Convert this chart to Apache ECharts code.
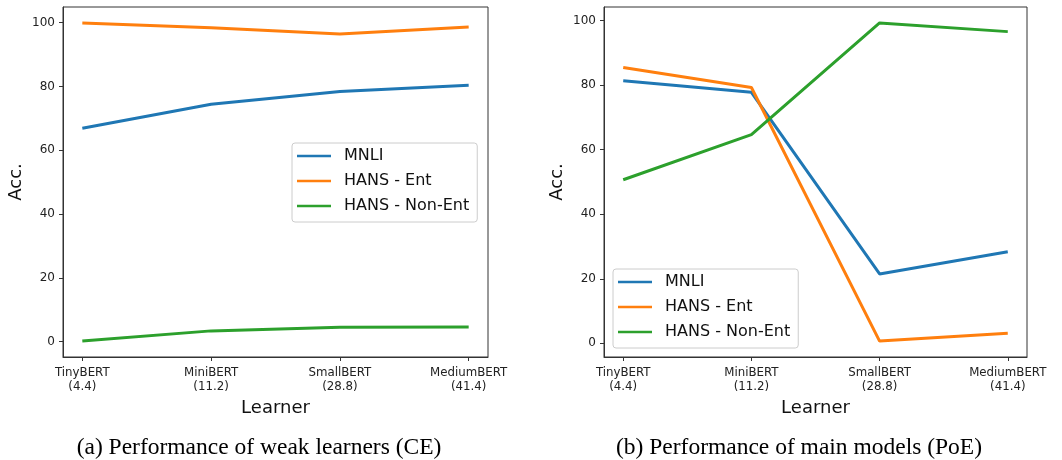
<!DOCTYPE html>
<html><head><meta charset="utf-8">
<script src="https://cdn.jsdelivr.net/npm/echarts@6/dist/echarts.min.js"></script>
<style>html,body{margin:0;padding:0;background:#fff}#c{width:1062px;height:460px}</style>
</head><body><div id="c"></div>
<script>
const categories = ['TinyBERT\n(4.4)', 'MiniBERT\n(11.2)', 'SmallBERT\n(28.8)', 'MediumBERT\n(41.4)'];
const seriesNames = ['MNLI', 'HANS - Ent', 'HANS - Non-Ent'];
const weakMNLI = [66.9, 74.4, 78.4, 80.4];
const weakHansEnt = [99.9, 98.4, 96.4, 98.6];
const weakHansNonEnt = [0.2, 3.4, 4.5, 4.6];
const mainMNLI = [81.4, 77.8, 21.5, 28.4];
const mainHansEnt = [85.5, 79.3, 0.7, 3.1];
const mainHansNonEnt = [50.7, 64.7, 99.3, 96.6];
const yTicks = [0, 20, 40, 60, 80, 100];
const captions = ['(a) Performance of weak learners (CE)', '(b) Performance of main models (PoE)'];
const colors = ['#1f77b4', '#ff7f0e', '#2ca02c'];

const panels = [[weakMNLI, weakHansEnt, weakHansNonEnt], [mainMNLI, mainHansEnt, mainHansNonEnt]];
const grids = [
  {left: 63, top: 7, width: 425, height: 350},
  {left: 604, top: 7, width: 423, height: 350}
];
const xIdx = [0, 1, 2, 3];
const font = 'DejaVu Sans';
const captionStyle = {fontFamily: 'Liberation Serif', fontSize: 23.5, fill: '#000', textAlign: 'center', textVerticalAlign: 'middle'};
const option = {
  animation: false,
  color: colors,
  grid: grids.map(g => Object.assign({show: true, borderColor: '#333', borderWidth: 1, backgroundColor: 'transparent'}, g)),
  xAxis: grids.map((g, i) => ({
    type: 'value', gridIndex: i, min: -0.15, max: 3.15,
    name: 'Learner', nameLocation: 'middle', nameGap: 41,
    nameTextStyle: {fontFamily: font, fontSize: 18, color: '#111'},
    axisLine: {show: true, onZero: false, lineStyle: {color: '#333', width: 1}},
    axisTick: {show: true, length: 4, lineStyle: {color: '#333'}, customValues: xIdx},
    axisLabel: {customValues: xIdx, formatter: v => categories[Math.round(v)], fontFamily: font, fontSize: 11.8, lineHeight: 14, color: '#222', margin: 9},
    splitLine: {show: false}
  })),
  yAxis: panels.map((p, i) => {
    const all = p.flat();
    const mn = Math.min(...all), mx = Math.max(...all), m = 0.05 * (mx - mn);
    return {
      type: 'value', gridIndex: i, min: mn - m, max: mx + m,
      name: 'Acc.', nameLocation: 'middle', nameGap: 38, nameRotate: 90,
      nameTextStyle: {fontFamily: font, fontSize: 18, color: '#111'},
      axisLine: {show: true, onZero: false, lineStyle: {color: '#333', width: 1}},
      axisTick: {show: true, length: 4, lineStyle: {color: '#333'}, customValues: yTicks},
      axisLabel: {customValues: yTicks, fontFamily: font, fontSize: 12, color: '#222', margin: 8},
      splitLine: {show: false}
    };
  }),
  legend: [
    {left: 292, top: 143, width: 188},
    {left: 613, top: 269, width: 187}
  ].map(l => Object.assign({
    orient: 'vertical', data: seriesNames, icon: 'rect', itemWidth: 34, itemHeight: 2.5, itemGap: 9,
    padding: [5, 8, 8, 5], borderColor: '#ccc', borderWidth: 1, borderRadius: 3, backgroundColor: 'rgba(255,255,255,0.8)',
    textStyle: {fontFamily: font, fontSize: 16, color: '#111', lineHeight: 16, padding: [0, 0, 0, 8]}
  }, l)),
  series: panels.flatMap((p, i) => p.map((vals, k) => ({
    type: 'line', name: seriesNames[k], xAxisIndex: i, yAxisIndex: i,
    data: vals.map((v, j) => [xIdx[j], v]), showSymbol: false, symbol: 'none',
    lineStyle: {width: 3, color: colors[k]}, itemStyle: {color: colors[k]}, z: 2 + k
  }))),
  graphic: [
    {type: 'text', style: Object.assign({text: captions[0]}, captionStyle), x: 259, y: 448},
    {type: 'text', style: Object.assign({text: captions[1]}, captionStyle), x: 799, y: 448}
  ]
};
const chart = echarts.init(document.getElementById('c'));
chart.setOption(option);
</script></body></html>
